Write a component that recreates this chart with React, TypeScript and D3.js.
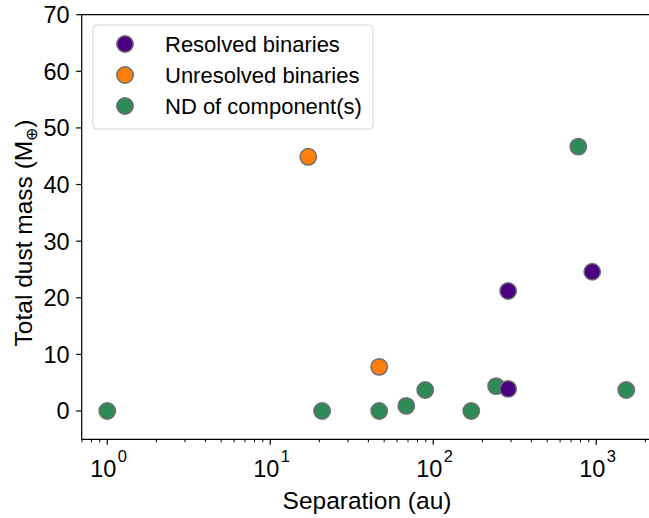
import React from "react";
import * as d3 from "d3";

// Projected separation (au) and total dust mass (Earth masses) per group
const resolvedSep = [288, 288, 945];
const resolvedMass = [3.9, 21.2, 24.6];

const unresolvedSep = [17.1, 46.6];
const unresolvedMass = [44.9, 7.8];

const ndSep = [1, 20.8, 46.6, 68.3, 89.3, 171, 243, 776, 1528];
const ndMass = [0, 0, 0, 0.9, 3.7, 0, 4.4, 46.7, 3.7];

const yTicks = [0, 10, 20, 30, 40, 50, 60, 70];
const xDecades = [0, 1, 2, 3];

const legendLabels = ["Resolved binaries", "Unresolved binaries", "ND of component(s)"];

const W = 649;
const H = 518;
const FONT = "Liberation Sans, Arial, sans-serif";

export default function App() {
  const left = 81.7;
  const top = 14.7;
  const bottom = 439.3;

  const x = d3.scaleLog().domain([0.697, 2500]).range([left, left + (Math.log10(2500) - Math.log10(0.697)) * 163]);
  const y = d3.scaleLinear().domain([-5, 70]).range([bottom, top]);
  const right = x.range()[1];

  const minorTicks: number[] = [];
  for (let e = -1; e <= 3; e++) {
    for (let m = 2; m <= 9; m++) {
      const v = m * Math.pow(10, e);
      if (v >= 0.697 && v <= 2500) minorTicks.push(v);
    }
  }

  const groups = [
    { sep: resolvedSep, mass: resolvedMass, color: "#4b0082" },
    { sep: unresolvedSep, mass: unresolvedMass, color: "#ff7f0e" },
    { sep: ndSep, mass: ndMass, color: "#2e8b57" },
  ];

  // Draw order: green first so purple sits over it where they overlap
  const drawOrder = [groups[2], groups[1], groups[0]];

  return (
    <svg
      width={W}
      height={H}
      style={{ position: "absolute", left: 0, top: 0, background: "#fff" }}
      fontFamily={FONT}
    >
      <rect width={W} height={H} fill="#fff" />
      {/* spines */}
      <line x1={left} x2={left} y1={top} y2={bottom} stroke="#000" strokeWidth={1.2} />
      <line x1={left} x2={right} y1={bottom} y2={bottom} stroke="#000" strokeWidth={1.2} />
      <line x1={left} x2={right} y1={top} y2={top} stroke="#000" strokeWidth={1.2} />
      <line x1={right} x2={right} y1={top} y2={bottom} stroke="#000" strokeWidth={1.2} />

      {/* y axis */}
      {yTicks.map((t) => (
        <g key={t}>
          <line x1={left - 5.5} x2={left} y1={y(t)} y2={y(t)} stroke="#000" strokeWidth={1.2} />
          <text x={left - 12} y={y(t)} dy="0.36em" textAnchor="end" fontSize={23.5}>
            {t}
          </text>
        </g>
      ))}

      {/* x axis */}
      {minorTicks.map((t, i) => (
        <line key={"m" + i} x1={x(t)} x2={x(t)} y1={bottom} y2={bottom + 3} stroke="#000" strokeWidth={1} />
      ))}
      {xDecades.map((e) => {
        const px = x(Math.pow(10, e));
        return (
          <g key={e}>
            <line x1={px} x2={px} y1={bottom} y2={bottom + 5.5} stroke="#000" strokeWidth={1.2} />
            <text x={px - 4} y={bottom + 38} textAnchor="middle" fontSize={23.5}>
              10
            </text>
            <text x={px + 15} y={bottom + 23} textAnchor="middle" fontSize={16.5}>
              {e}
            </text>
          </g>
        );
      })}

      {/* axis labels */}
      <text x={367} y={509} textAnchor="middle" fontSize={24.5}>
        Separation (au)
      </text>
      <text transform={`translate(32, 233) rotate(-90)`} textAnchor="middle" fontSize={24.5}>
        Total dust mass (M
        <tspan fontSize={16} dy={5}>⊕</tspan>
        <tspan dy={-5}>)</tspan>
      </text>

      {/* points */}
      {drawOrder.map((g, gi) =>
        g.sep.map((s, i) => (
          <circle
            key={gi + "-" + i}
            cx={x(s)}
            cy={y(g.mass[i])}
            r={8.2}
            fill={g.color}
            stroke="#6e6e6e"
            strokeWidth={1.5}
          />
        ))
      )}

      {/* legend */}
      <rect x={93} y={25} width={280} height={104} rx={4} fill="#fff" fillOpacity={0.8} stroke="#d6d6d6" strokeWidth={1} />
      {legendLabels.map((lab, i) => {
        const ly = 44 + i * 31;
        return (
          <g key={lab}>
            <circle cx={125} cy={ly} r={8.2} fill={groups[i].color} stroke="#6e6e6e" strokeWidth={1.5} />
            <text x={165} y={ly} dy="0.36em" fontSize={22}>
              {lab}
            </text>
          </g>
        );
      })}
    </svg>
  );
}
